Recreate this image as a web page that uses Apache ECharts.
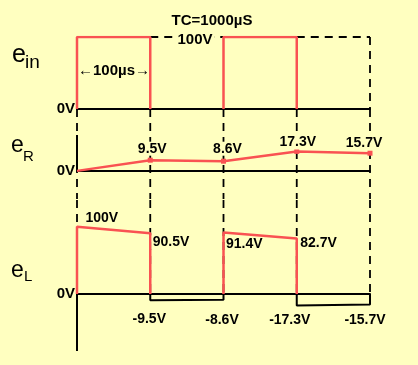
<!DOCTYPE html>
<html><head><meta charset="utf-8">
<script src="https://cdn.jsdelivr.net/npm/echarts@6/dist/echarts.min.js"></script>
<style>html,body{margin:0;padding:0;background:#ffffc0}#c{width:418px;height:365px}</style>
</head><body><div id="c"></div>
<script>
// ---------- data ----------
const timeRange = [0, 400];
const einPulse1 = [[0, 0], [0, 100], [100, 100], [100, 0]];
const einPulse2 = [[200, 0], [200, 100], [300, 100], [300, 0]];
const einRef1 = [[100, 100], [200, 100]];
const einRef2 = [[300, 100], [400, 100]];
const eRTimes = [0, 100, 200, 300, 400];
const eRValues = [0, 9.5, 8.6, 17.3, 15.7];
const eRLabels = ['', '9.5V', '8.6V', '17.3V', '15.7V'];
const eLPulse1 = [[0, 0], [0, 100], [100, 90.5], [100, 0]];
const eLPulse2 = [[200, 0], [200, 91.4], [300, 82.7], [300, 0]];
const eLPulseLabels1 = ['', '100V', '90.5V', ''];
const eLPulseLabels2 = ['', '91.4V', '82.7V', ''];
const eLNeg1 = [[100, 0], [100, -9.5], [200, -8.6], [200, 0]];
const eLNeg2 = [[300, 0], [300, -17.3], [400, -15.7], [400, 0]];
const eLNegLabels1 = ['', '-9.5V', '-8.6V', ''];
const eLNegLabels2 = ['', '-17.3V', '-15.7V', ''];
const guideTimes = [0, 100, 200, 300, 400];
const einRange = [0, 100];
const eRRange = [-25, 55];
const eLRange = [-85, 140];

// ---------- styling / layout ----------
const BG = '#ffffc0';
const RED = '#f95252';
const FONT = "'Liberation Sans', Arial, sans-serif";
const labelPlace = {
  '9.5V': ['top', [2, -2]], '8.6V': ['top', [4, -3]], '17.3V': ['top', [1, 0.5]], '15.7V': ['top', [-6, -1]],
  '100V': ['right', [7, -9]], '90.5V': ['right', [1, 8.7]], '91.4V': ['right', [1, 11.3]], '82.7V': ['right', [2, 4.5]],
  '-9.5V': ['bottom', [-1, 11.6]], '-8.6V': ['bottom', [-1.5, 13.2]], '-17.3V': ['bottom', [-7, 7.4]], '-15.7V': ['bottom', [-5, 8.5]]
};
function labelFor(text) {
  if (!text) return { show: false };
  const p = labelPlace[text];
  return { show: true, formatter: text, position: p[0], distance: 0, offset: p[1],
    color: '#000', fontFamily: FONT, fontSize: 14, fontWeight: 'bold',
    backgroundColor: BG, padding: [0, 1] };
}
function items(points, labels) {
  return points.map((pt, i) => ({ value: pt, label: labelFor(labels ? labels[i] : '') }));
}
function line(g, data, color, width, type, z, extra) {
  return Object.assign({
    type: 'line', xAxisIndex: g, yAxisIndex: g, data: data, symbol: 'none',
    lineStyle: { color: color, width: width, type: type }, itemStyle: { color: color },
    z: z, silent: true, animation: false
  }, extra || {});
}
const HIDDEN_SYMBOL = { symbol: 'circle', symbolSize: 1, showAllSymbol: true, itemStyle: { color: 'rgba(0,0,0,0)' } };
const DASH = [8, 6];
const series = [];
// e_in
series.push(line(0, einPulse1, RED, 2.5, 'solid', 5));
series.push(line(0, einPulse2, RED, 2.5, 'solid', 5));
series.push(line(0, einRef1, '#000', 1.8, DASH, 3));
series.push(line(0, einRef2, '#000', 1.8, DASH, 3));
series.push(line(0, [[guideTimes[4], einRange[1]], [guideTimes[4], einRange[0]]], '#000', 1.8, DASH, 3));
// guides through e_R and e_L
guideTimes.forEach(t => {
  series.push(line(1, [[t, eRRange[1]], [t, eRRange[0]]], '#000', 1.8, DASH, 3));
  series.push(line(2, [[t, eLRange[1]], [t, 0]], '#000', 1.8, DASH, 3));
});
series.push(line(1, [[0, 32], [0, 0]], '#000', 2, 'solid', 3));
series.push(line(2, [[0, 0], [0, eLRange[0]]], '#000', 2, 'solid', 3));
// e_R
series.push(line(1, eRTimes.map((t, i) => ({
  value: [t, eRValues[i]], symbol: i === 0 ? 'none' : 'rect', label: labelFor(eRLabels[i])
})), RED, 2.5, 'solid', 6, { symbol: 'rect', symbolSize: 5, showAllSymbol: true }));
// e_L
series.push(line(2, items(eLPulse1, eLPulseLabels1), RED, 2.5, 'solid', 6, HIDDEN_SYMBOL));
series.push(line(2, items(eLPulse2, eLPulseLabels2), RED, 2.5, 'solid', 6, HIDDEN_SYMBOL));
series.push(line(2, items(eLNeg1, eLNegLabels1), '#000', 2, 'solid', 5, HIDDEN_SYMBOL));
series.push(line(2, items(eLNeg2, eLNegLabels2), '#000', 2, 'solid', 5, HIDDEN_SYMBOL));

const grids = [
  { left: 77, width: 293, top: 37, height: 72 },
  { left: 77, width: 293, top: 109, height: 90 },
  { left: 77, width: 293, top: 200, height: 151 }
].map(g => Object.assign({ containLabel: false, outerBoundsMode: 'none' }, g));
const ranges = [einRange, eRRange, eLRange];
const option = {
  backgroundColor: BG,
  animation: false,
  grid: grids,
  xAxis: [0, 1, 2].map(i => ({
    gridIndex: i, type: 'value', min: timeRange[0], max: timeRange[1],
    axisLine: { show: true, onZero: true, lineStyle: { color: '#000', width: 2 } },
    axisTick: { show: false }, axisLabel: { show: false }, splitLine: { show: false }
  })),
  yAxis: [0, 1, 2].map(i => ({
    gridIndex: i, type: 'value', min: ranges[i][0], max: ranges[i][1], interval: 5,
    axisLine: { show: false }, axisTick: { show: false }, splitLine: { show: false },
    axisLabel: { show: true, margin: 2, color: '#000', fontFamily: FONT, fontSize: 15, fontWeight: 'bold',
      formatter: v => (v === 0 ? '0V' : '') }
  })),
  series: series,
  graphic: [
    { type: 'text', x: 12, y: 55, style: { text: 'e', font: '25px ' + FONT, fill: '#000', verticalAlign: 'middle' } },
    { type: 'text', x: 25, y: 63, style: { text: 'in', font: '19px ' + FONT, fill: '#000', verticalAlign: 'middle' } },
    { type: 'text', x: 11, y: 146, style: { text: 'e', font: '23px ' + FONT, fill: '#000', verticalAlign: 'middle' } },
    { type: 'text', x: 23, y: 157, style: { text: 'R', font: '15px ' + FONT, fill: '#000', verticalAlign: 'middle' } },
    { type: 'text', x: 11, y: 271, style: { text: 'e', font: '23px ' + FONT, fill: '#000', verticalAlign: 'middle' } },
    { type: 'text', x: 24, y: 277, style: { text: 'L', font: '15px ' + FONT, fill: '#000', verticalAlign: 'middle' } },
    { type: 'text', x: 212, y: 21, z: 10, style: { text: 'TC=1000\u00b5S', font: 'bold 15px ' + FONT, fill: '#000', align: 'center', verticalAlign: 'middle' } },
    { type: 'text', x: 195, y: 40, z: 10, style: { text: '100V', font: 'bold 15px ' + FONT, fill: '#000', align: 'center', verticalAlign: 'middle', backgroundColor: BG, padding: [0, 2] } },
    { type: 'text', x: 114, y: 71, z: 10, style: { text: '\u2190100\u00b5s\u2192', font: 'bold 15px ' + FONT, fill: '#000', align: 'center', verticalAlign: 'middle' } }
  ]
};
const chart = echarts.init(document.getElementById('c'), null, { renderer: 'canvas' });
chart.setOption(option);
</script>
</body></html>
